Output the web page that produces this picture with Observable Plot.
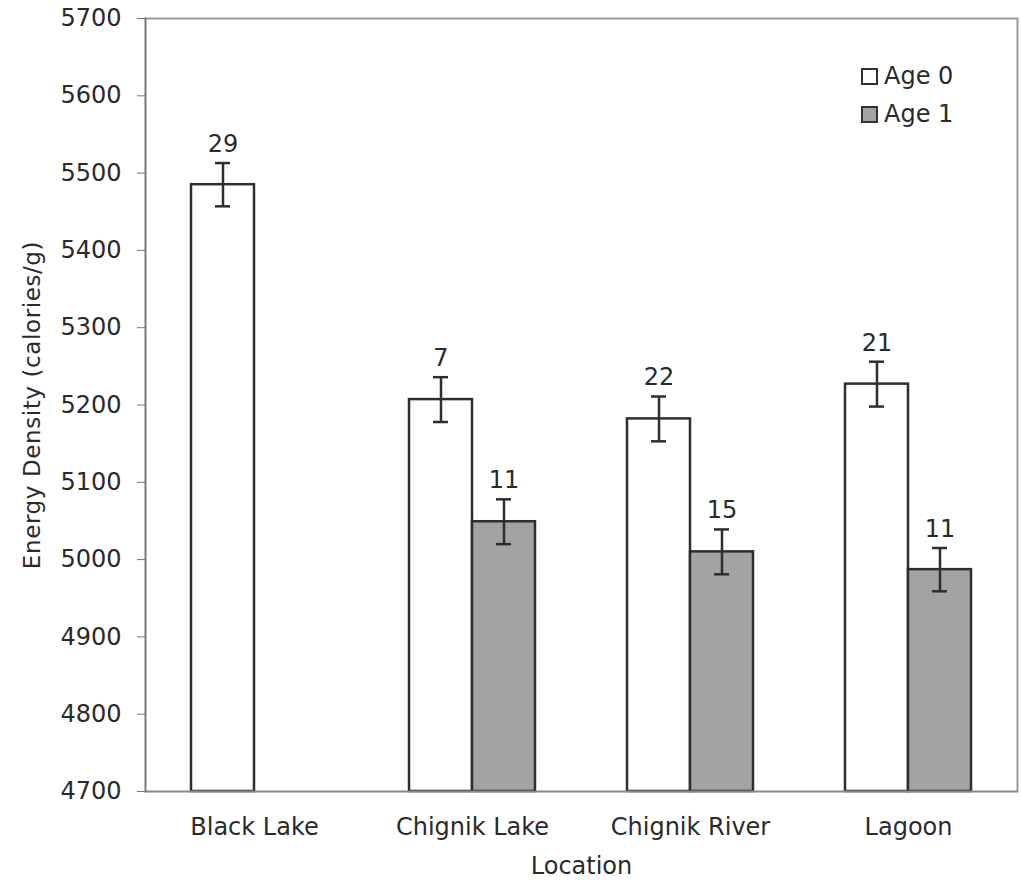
<!DOCTYPE html>
<html><head><meta charset="utf-8">
<script src="https://cdn.jsdelivr.net/npm/d3@7"></script>
<script src="https://cdn.jsdelivr.net/npm/@observablehq/plot@0.6"></script>
<style>
body{margin:0;background:#fff}
#wrap{position:relative;width:1021px;height:880px}
#legend{position:absolute;left:861px;top:57px;font:24px "DejaVu Sans";color:#2a2a2a}
.row{display:flex;align-items:center;height:38px}
.sw{width:13px;height:13px;border:2px solid #333;margin-right:6px}
g[aria-label="y-axis label"] text{font-size:23px;letter-spacing:0.6px}
</style></head><body><div id="wrap"><div id="legend"></div></div>
<script>
const locations = ["Black Lake", "Chignik Lake", "Chignik River", "Lagoon"];
const ages = ["Age 0", "Age 1"];
const barLocation = ["Black Lake", "Chignik Lake", "Chignik Lake", "Chignik River", "Chignik River", "Lagoon", "Lagoon"];
const barAge = ["Age 0", "Age 0", "Age 1", "Age 0", "Age 1", "Age 0", "Age 1"];
const energy = [5485, 5207, 5049, 5182, 5010, 5227, 4987];
const errorSE = [28, 29, 29, 29, 29, 29, 28];
const sampleN = [29, 7, 11, 22, 15, 21, 11];
const yTicks = [4700, 4800, 4900, 5000, 5100, 5200, 5300, 5400, 5500, 5600, 5700];
const ageColors = ["#ffffff", "#a3a3a3"];

const data = energy.map((v, i) => ({
  loc: barLocation[i], age: barAge[i], v,
  lo: v - errorSE[i], hi: v + errorSE[i], n: String(sampleN[i])
}));

const dark = "#2e2e2e";
const chart = Plot.plot({
  width: 1021, height: 880,
  marginLeft: 144, marginRight: 3, marginTop: 18, marginBottom: 89,
  style: {fontFamily: "DejaVu Sans", background: "white", color: "#2a2a2a", overflow: "visible"},
  fx: {domain: locations, padding: 0},
  x: {domain: ages, paddingInner: 0, paddingOuter: 0.72, axis: null},
  y: {domain: [4700, 5700]},
  color: {domain: ages, range: ageColors},
  marks: [
    Plot.ruleY([5700], {stroke: "#999", strokeWidth: 2}),
    Plot.frame({anchor: "right", fx: ["Lagoon"], stroke: "#999", strokeWidth: 2}),
    Plot.barY(data, {fx: "loc", x: "age", y1: 4700, y2: "v", fill: "age", stroke: dark, strokeWidth: 2.5}),
    Plot.ruleY([4700], {stroke: "#888", strokeWidth: 2}),
    Plot.frame({anchor: "left", fx: ["Black Lake"], stroke: "#777", strokeWidth: 2}),
    Plot.ruleX(data, {fx: "loc", x: "age", y1: "lo", y2: "hi", stroke: dark, strokeWidth: 2.5}),
    Plot.tickY(data, {fx: "loc", x: "age", y: "hi", insetLeft: 24, insetRight: 24, stroke: dark, strokeWidth: 2.5}),
    Plot.tickY(data, {fx: "loc", x: "age", y: "lo", insetLeft: 24, insetRight: 24, stroke: dark, strokeWidth: 2.5}),
    Plot.text(data, {fx: "loc", x: "age", y: "hi", text: "n", lineAnchor: "bottom", dy: -11, fontSize: 24, fill: "#2a2a2a"}),
    Plot.axisY({ticks: yTicks, tickFormat: d3.format("d"), tickSize: 8, tickPadding: 16, fontSize: 24, stroke: "#777", fill: "#2a2a2a",
      label: "Energy Density (calories/g)", labelArrow: "none", labelAnchor: "center", labelOffset: 122}),
    Plot.axisFx({anchor: "bottom", tickSize: 0, tickPadding: 26, fontSize: 24, fill: "#2a2a2a",
      label: "Location", labelArrow: "none", labelAnchor: "center", labelOffset: 82})
  ]
});
const wrap = document.getElementById("wrap");
wrap.insertBefore(chart, wrap.firstChild);

const legend = document.getElementById("legend");
ages.forEach((a, i) => {
  const row = document.createElement("div");
  row.className = "row";
  const sw = document.createElement("div");
  sw.className = "sw";
  sw.style.background = ageColors[i];
  const t = document.createElement("span");
  t.textContent = a;
  row.appendChild(sw); row.appendChild(t);
  legend.appendChild(row);
});
</script></body></html>
